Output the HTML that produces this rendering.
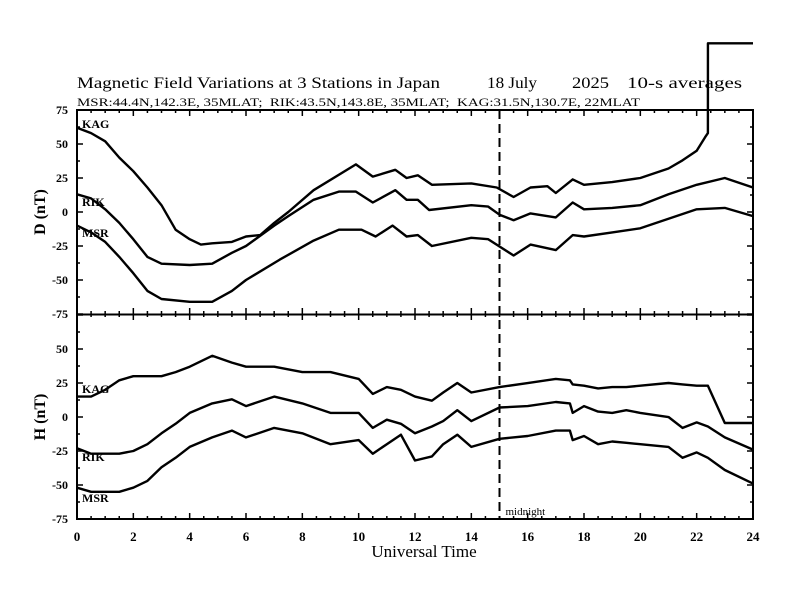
<!DOCTYPE html>
<html><head><meta charset="utf-8"><style>
body{margin:0;background:#fff;}
svg{display:block;font-family:"Liberation Serif",serif;}
</style></head><body>
<svg id="chart" width="792" height="612" xmlns="http://www.w3.org/2000/svg">
<g font-size="16">
<text x="77" y="88" textLength="363" lengthAdjust="spacingAndGlyphs">Magnetic Field Variations at 3 Stations in Japan</text>
<text x="487" y="88" textLength="50" lengthAdjust="spacingAndGlyphs">18 July</text>
<text x="572" y="88" textLength="37" lengthAdjust="spacingAndGlyphs">2025</text>
<text x="627" y="88" textLength="115" lengthAdjust="spacingAndGlyphs">10-s averages</text>
</g>
<text x="77" y="106" font-size="12" textLength="563" lengthAdjust="spacingAndGlyphs" xml:space="preserve">MSR:44.4N,142.3E, 35MLAT;  RIK:43.5N,143.8E, 35MLAT;  KAG:31.5N,130.7E, 22MLAT</text>
<g id="marks"></g>
</svg>
<script>
const hoursDKAG=[0,0.5,1,1.5,2,2.5,3,3.5,4,4.4,4.8,5.5,6,6.5,7,7.5,8.4,9.9,10.5,11.3,11.7,12.1,12.6,14,14.9,15.5,16.1,16.7,17,17.6,18,19,20,21,21.5,22,22.3,22.4];
const dKAG=[62,58,52,40,30,18,5,-13,-20,-24,-23,-22,-18,-17,-8,0,16,35,26,31,25,27,20,21,18,11,18,19,14,24,20,22,25,32,38,45,55,58];
const hoursDRIK=[0,0.5,1,1.5,2,2.5,3,4,4.8,5.5,6,7,7.5,8.4,9.3,9.9,10.5,11.3,11.7,12.1,12.5,14,14.6,15,15.5,16.1,17,17.6,18,19,20,21,22,23,24];
const dRIK=[13,10,2,-8,-20,-33,-38,-39,-38,-30,-25,-10,-3,9,15,15,7,16,9,9,1.5,5,4,-2,-6,-1,-4,7,2,3,5,13,20,25,18];
const hoursDMSR=[0,0.5,1,1.5,2,2.5,3,4,4.8,5.5,6,7.2,8.4,9.3,10.1,10.6,11.2,11.7,12.1,12.6,14,14.6,15.5,16.1,17,17.6,18,19,20,21,22,23,24];
const dMSR=[-10,-15,-22,-33,-45,-58,-64,-66,-66,-58,-50,-35,-21,-13,-13,-18,-10,-18,-17,-25,-19,-20,-32,-24,-28,-17,-18,-15,-12,-5,2,3,-3];
const kagJumpD=124;
const hoursH=[0,0.5,1,1.5,2,2.5,3,3.5,4,4.8,5.5,6,7,8,9,10,10.5,11,11.5,12,12.6,13,13.5,14,15,16,17,17.5,17.6,18,18.5,19,19.5,20,21,21.5,22,22.4,23,24];
const hKAG=[15,15,20,27,30,30,30,33,37,45,40,37,37,33,33,28,17,22,20,15,12,18,25,18,22,25,28,27,24,23,21,22,22,23,25,24,23,23,-4.4,-4.4];
const hRIK=[-23,-27,-27,-27,-25,-20,-12,-5,3,10,13,8,15,10,3,3,-8,-2,-5,-12,-7,-3,5,-3,7,8,11,10,3,8,4,3,5,3,0,-8,-4,-7,-15,-24];
const hMSR=[-52,-55,-55,-55,-52,-47,-37,-30,-22,-15,-10,-15,-8,-12,-20,-17,-27,-20,-13,-32,-29,-20,-13,-22,-16,-14,-10,-10,-17,-14,-20,-18,-19,-20,-22,-30,-26,-30,-39,-49];
const yTicks=[75,50,25,0,-25,-50,-75];
const xTicks=[0,2,4,6,8,10,12,14,16,18,20,22,24];

const NS="http://www.w3.org/2000/svg";
const g=document.getElementById('marks');
const X0=77,X1=753;
const x=h=>X0+h*(X1-X0)/24;
const yTop=v=>212-v*34/25;
const yBot=v=>417-v*34/25;
function mk(tag,attrs,parent){const e=document.createElementNS(NS,tag);for(const k in attrs)e.setAttribute(k,attrs[k]);(parent||g).appendChild(e);return e;}
function txt(s,attrs){const e=mk('text',attrs);e.textContent=s;return e;}

const fr=mk('rect',{x:X0,y:110,width:X1-X0,height:409,fill:'none',stroke:'#000','stroke-width':2});


const dv=mk('line',{x1:X0,y1:314.5,x2:X1,y2:314.5,stroke:'#000','stroke-width':2});



for(let h=0;h<=24;h+=0.5){
  const major=(h%2===0);const L=major?6:3;
  for(const yy of [110,314,519]){
    if(yy!==110) mk('line',{x1:x(h),y1:yy,x2:x(h),y2:yy-L,stroke:'#000','stroke-width':1.5});
    if(yy!==519) mk('line',{x1:x(h),y1:yy,x2:x(h),y2:yy+L,stroke:'#000','stroke-width':1.5});
  }
}
for(let v=-75;v<=75;v+=12.5){
  const major=(v%25===0);const L=major?6:3;
  for(const f of [yTop,yBot]){
    mk('line',{x1:X0,y1:f(v),x2:X0+L,y2:f(v),stroke:'#000','stroke-width':1.5});
    mk('line',{x1:X1,y1:f(v),x2:X1-L,y2:f(v),stroke:'#000','stroke-width':1.5});
  }
}
yTicks.forEach(v=>{
  const t=txt(String(v),{x:68,y:yTop(v)+4,'font-size':12,'font-weight':'bold','text-anchor':'end'});
  
  
  if(v!==75){const t2=txt(String(v),{x:68,y:yBot(v)+4,'font-size':12,'font-weight':'bold','text-anchor':'end'});
  
  }
});
xTicks.forEach(h=>{
  const t=txt(String(h),{x:x(h),y:541,'font-size':13,'font-weight':'bold','text-anchor':'middle'});
  
  
});
const xt=txt('Universal Time',{x:424,y:557,'font-size':17,'text-anchor':'middle'});


const yd=txt('D (nT)',{x:0,y:0,'font-size':16,'font-weight':'bold','text-anchor':'middle',transform:'translate(45,212) rotate(-90)'});


const yh=txt('H (nT)',{x:0,y:0,'font-size':16,'font-weight':'bold','text-anchor':'middle',transform:'translate(45,417) rotate(-90)'});



const mn=mk('line',{x1:x(15),y1:110,x2:x(15),y2:519,stroke:'#000','stroke-width':2,'stroke-dasharray':'9,5'});


const mt=txt('midnight',{x:x(15)+6,y:515,'font-size':11});



function series(hs,vs,f,name,extra){
  let pts=hs.map((h,i)=>x(h).toFixed(1)+','+f(vs[i]).toFixed(1));
  if(extra) pts=pts.concat(extra);
  const p=mk('polyline',{points:pts.join(' '),fill:'none',stroke:'#000','stroke-width':2.4,'stroke-linejoin':'round'});
  
  
}
series(hoursDKAG,dKAG,yTop,'d-kag-line',[x(22.4)+','+yTop(kagJumpD),x(24)+','+yTop(kagJumpD)]);
series(hoursDRIK,dRIK,yTop,'d-rik-line');
series(hoursDMSR,dMSR,yTop,'d-msr-line');
series(hoursH,hKAG,yBot,'h-kag-line');
series(hoursH,hRIK,yBot,'h-rik-line');
series(hoursH,hMSR,yBot,'h-msr-line');

[['KAG',128,'d-kag-label'],['RIK',206,'d-rik-label'],['MSR',237,'d-msr-label'],['KAG',393,'h-kag-label'],['RIK',461,'h-rik-label'],['MSR',502,'h-msr-label']].forEach(a=>{
  const t=txt(a[0],{x:82,y:a[1],'font-size':12,'font-weight':'bold'});
  
  
});
</script>
</body></html>
